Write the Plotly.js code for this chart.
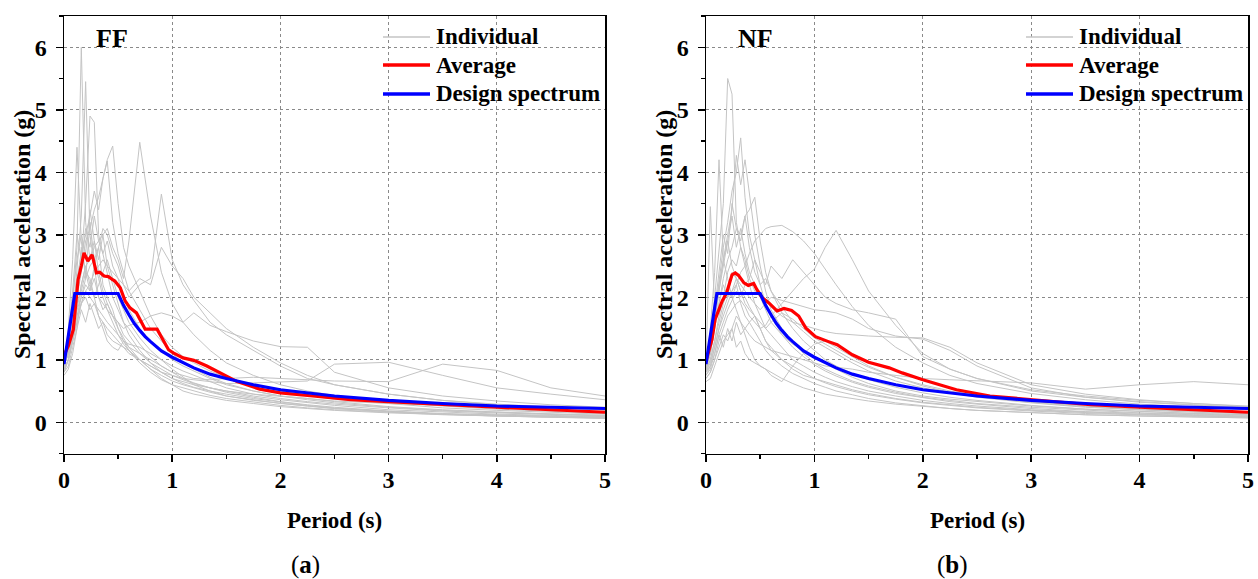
<!DOCTYPE html>
<html>
<head>
<meta charset="utf-8">
<script src="https://cdn.plot.ly/plotly-3.0.1.min.js"></script>
<style>html,body{margin:0;padding:0;background:#fff}#chart{width:1258px;height:579px}</style>
</head>
<body>
<div id="chart"></div>
<script>
// ---------------- DATA ----------------
const periodGrid = [0,0.04,0.08,0.12,0.16,0.2,0.24,0.28,0.32,0.36,0.4,0.45,0.5,0.55,0.6,0.7,0.8,0.9,1.0,1.1,1.2,1.35,1.5,1.75,2.0,2.25,2.5,3.0,3.5,4.0,4.5,5.0];

const ffIndividual = [
 [0.95,1.3,1.9,2.8,6.0,3.2,2.6,2.9,2.4,2.1,1.9,1.7,1.6,1.4,1.3,1.1,0.95,0.85,0.75,0.68,0.62,0.55,0.48,0.4,0.33,0.28,0.24,0.18,0.14,0.12,0.1,0.08],
 [0.9,1.2,1.6,2.4,3.3,5.45,3.0,2.5,2.8,2.2,2.0,1.8,1.5,1.35,1.2,1.0,0.9,0.8,0.7,0.62,0.56,0.5,0.45,0.38,0.32,0.27,0.23,0.17,0.13,0.11,0.09,0.07],
 [1.0,1.4,2.1,3.0,2.6,3.5,4.9,4.8,3.0,2.7,2.4,2.0,1.8,1.6,1.5,1.25,1.05,0.9,0.8,0.7,0.63,0.55,0.5,0.42,0.36,0.31,0.27,0.2,0.16,0.13,0.11,0.09],
 [0.85,1.5,2.6,4.4,2.9,2.3,3.2,2.6,2.3,2.0,1.8,1.6,1.4,1.25,1.15,1.0,0.85,0.75,0.66,0.6,0.55,0.48,0.42,0.36,0.3,0.26,0.22,0.17,0.13,0.11,0.09,0.08],
 [0.9,1.1,1.5,2.0,2.4,2.9,3.1,3.4,3.6,3.9,4.2,4.42,3.5,2.8,2.5,2.1,1.7,1.4,1.2,1.05,0.95,0.82,0.72,0.6,0.5,0.43,0.37,0.3,0.23,0.19,0.16,0.13],
 [0.8,1.0,1.4,1.8,2.2,2.5,2.6,2.8,2.9,3.0,3.1,2.8,2.6,2.3,2.9,4.48,3.3,2.4,1.9,1.6,1.4,1.15,0.95,0.75,0.6,0.5,0.43,0.33,0.26,0.21,0.17,0.14],
 [1.0,1.3,1.8,2.3,2.7,3.0,3.3,3.7,3.4,3.9,4.18,3.2,2.7,2.4,2.1,1.8,1.5,1.3,1.1,0.95,0.85,0.72,0.62,0.5,0.42,0.36,0.31,0.24,0.19,0.16,0.13,0.11],
 [0.9,1.1,1.4,1.7,2.0,2.3,2.5,2.6,2.8,3.1,3.0,2.7,2.5,2.2,2.0,2.2,2.3,3.65,2.6,2.2,1.95,1.6,1.4,1.15,0.9,0.7,0.6,0.45,0.35,0.28,0.23,0.19],
 [0.85,1.0,1.3,1.6,1.9,2.1,2.2,2.4,2.5,2.6,2.5,2.4,2.3,2.2,2.1,2.3,2.2,2.8,2.5,2.3,2.0,1.75,1.5,1.2,0.95,0.75,0.6,0.45,0.35,0.29,0.24,0.2],
 [0.9,1.1,1.4,1.8,2.0,2.2,2.1,2.3,2.0,1.9,1.8,1.7,1.6,1.5,1.55,1.6,1.7,1.75,1.7,1.6,1.75,1.55,1.45,1.3,1.21,1.2,0.8,0.55,0.42,0.34,0.28,0.24],
 [0.8,1.0,1.3,1.6,1.9,2.0,1.8,1.9,1.7,1.6,1.5,1.4,1.3,1.2,1.1,1.0,0.9,0.8,0.75,0.7,0.68,0.65,0.62,0.63,0.64,0.66,0.93,0.96,0.75,0.55,0.45,0.36],
 [0.85,1.0,1.3,1.7,1.9,2.1,2.0,1.9,1.8,1.7,1.6,1.5,1.4,1.3,1.2,1.1,1.0,0.9,0.8,0.75,0.7,0.68,0.7,0.72,0.7,0.68,0.66,0.65,0.93,0.83,0.55,0.42],
 [0.8,0.9,1.2,1.5,1.8,1.6,1.9,1.7,1.5,1.6,1.4,1.3,1.25,1.2,1.15,1.0,0.85,0.7,0.6,0.5,0.45,0.4,0.35,0.3,0.25,0.22,0.19,0.15,0.12,0.1,0.08,0.07],
 [1.0,1.3,2.0,2.6,3.0,2.7,3.4,2.9,2.6,3.0,2.5,2.2,1.9,1.6,1.4,1.15,0.95,0.8,0.7,0.65,0.6,0.55,0.5,0.45,0.42,0.38,0.33,0.25,0.2,0.16,0.13,0.11],
 [0.75,0.85,1.1,1.5,2.2,2.5,2.2,2.0,1.7,1.5,1.3,1.2,1.15,1.3,1.25,1.2,1.1,1.0,0.85,0.72,0.6,0.5,0.42,0.35,0.3,0.26,0.22,0.17,0.13,0.1,0.08,0.06],
 [0.9,1.2,1.7,2.2,2.5,3.1,2.8,3.3,2.9,2.7,2.9,2.5,2.3,2.0,1.8,1.5,1.3,1.15,1.0,0.9,0.82,0.7,0.6,0.5,0.42,0.38,0.34,0.3,0.27,0.23,0.2,0.17],
 [0.95,1.1,1.5,1.9,2.1,2.4,2.3,2.0,2.2,2.4,2.6,2.3,2.0,1.8,1.6,1.35,1.15,1.0,0.9,0.82,0.75,0.65,0.55,0.45,0.38,0.33,0.29,0.23,0.18,0.15,0.12,0.1],
 [0.85,1.0,1.4,2.0,2.8,2.4,2.1,2.5,2.0,1.8,1.9,1.7,1.5,1.3,1.15,0.95,0.8,0.68,0.6,0.55,0.5,0.43,0.38,0.32,0.27,0.23,0.2,0.16,0.12,0.1,0.09,0.07]
];

const nfIndividual = [
 [0.9,1.3,2.0,2.8,3.5,5.5,5.25,3.2,2.8,2.5,2.2,1.9,1.7,1.5,1.4,1.2,1.0,0.9,0.8,0.72,0.65,0.57,0.5,0.42,0.35,0.3,0.26,0.2,0.16,0.13,0.11,0.09],
 [0.8,1.5,2.4,4.2,2.6,2.9,2.5,2.3,2.1,2.0,1.85,1.7,1.5,1.3,1.2,1.0,0.9,0.8,0.7,0.63,0.57,0.5,0.44,0.37,0.31,0.27,0.23,0.18,0.14,0.12,0.1,0.08],
 [0.95,1.2,1.7,2.3,2.8,3.2,3.7,4.0,4.55,3.6,3.0,2.6,2.2,1.9,1.7,1.4,1.2,1.05,0.92,0.82,0.74,0.64,0.56,0.46,0.39,0.33,0.29,0.22,0.17,0.14,0.12,0.1],
 [0.85,1.1,1.6,2.1,2.6,3.0,3.4,4.27,3.8,4.2,3.7,3.0,2.5,2.1,1.8,1.5,1.3,1.1,0.95,0.85,0.77,0.66,0.58,0.48,0.4,0.35,0.3,0.24,0.19,0.15,0.13,0.11],
 [0.9,1.1,1.5,1.9,2.3,2.6,2.8,3.1,3.0,3.3,3.4,3.6,2.9,2.4,2.1,1.75,1.5,1.3,1.15,1.0,0.9,0.78,0.68,0.56,0.47,0.4,0.35,0.27,0.21,0.17,0.14,0.12],
 [0.9,3.45,1.8,2.2,2.6,2.3,2.0,2.2,1.9,1.7,1.6,1.45,1.3,1.15,1.05,0.9,0.78,0.7,0.62,0.56,0.5,0.44,0.38,0.31,0.26,0.22,0.19,0.15,0.12,0.1,0.08,0.07],
 [0.8,0.95,1.2,1.5,1.7,1.9,2.1,2.2,2.4,2.5,2.7,2.9,3.0,3.1,3.13,3.15,3.05,2.9,2.7,2.45,2.2,1.85,1.55,1.2,0.95,0.75,0.62,0.46,0.36,0.29,0.24,0.2],
 [0.7,0.8,1.0,1.3,1.5,1.7,1.8,1.9,1.95,1.85,1.7,1.6,1.5,1.55,1.7,1.9,2.1,2.3,2.45,2.8,3.07,2.6,2.1,1.55,1.1,0.85,0.7,0.5,0.4,0.33,0.28,0.24],
 [0.8,0.9,1.2,1.5,1.8,2.0,2.1,2.3,2.2,2.1,2.0,1.9,1.8,1.9,2.0,1.95,1.9,1.85,1.8,1.78,1.75,1.65,1.5,1.38,1.33,1.15,0.9,0.55,0.4,0.32,0.27,0.23],
 [0.85,1.0,1.3,1.7,2.0,2.4,2.6,2.5,2.8,2.6,2.3,2.6,2.4,2.2,2.5,2.3,2.6,2.4,2.2,2.0,1.9,1.8,1.75,1.65,1.05,0.85,0.7,0.52,0.42,0.35,0.3,0.25],
 [0.75,0.9,1.1,1.4,1.6,1.8,1.95,2.1,2.0,2.2,2.3,2.1,2.0,1.95,1.85,1.7,1.6,1.55,1.5,1.45,1.42,1.4,1.38,1.36,1.35,1.2,0.95,0.6,0.45,0.36,0.3,0.26],
 [0.65,0.7,0.9,1.1,1.3,1.4,1.5,1.7,1.6,1.5,1.4,1.3,1.25,1.2,1.15,1.1,1.05,1.0,0.95,0.9,0.88,0.85,0.8,0.75,0.7,0.68,0.66,0.63,0.53,0.6,0.65,0.6],
 [0.7,0.8,1.0,1.2,1.4,1.3,1.5,1.2,1.3,1.1,1.0,0.95,0.9,0.85,0.8,0.7,0.62,0.55,0.5,0.45,0.42,0.38,0.34,0.29,0.25,0.22,0.19,0.15,0.12,0.1,0.08,0.07],
 [0.9,1.2,1.6,2.1,2.5,2.9,3.3,2.8,3.1,2.7,2.4,2.2,2.0,1.8,1.6,1.4,1.25,1.15,1.05,0.95,0.85,0.72,0.62,0.5,0.42,0.37,0.33,0.26,0.21,0.17,0.14,0.12],
 [0.8,1.0,1.3,1.6,1.9,2.1,2.0,1.8,1.6,1.4,1.2,1.0,0.9,0.85,0.75,0.65,0.9,1.1,1.25,1.3,1.2,1.05,0.9,0.72,0.58,0.48,0.41,0.32,0.25,0.2,0.17,0.14],
 [0.95,1.3,1.8,2.4,3.0,2.7,3.5,3.1,2.9,3.3,2.8,2.4,2.2,2.3,2.1,1.85,1.6,1.45,1.3,1.2,1.1,0.95,0.82,0.66,0.55,0.47,0.4,0.31,0.24,0.2,0.16,0.14],
 [0.85,1.1,1.5,1.9,2.2,2.0,2.4,2.3,2.1,1.9,1.8,1.7,1.6,1.5,1.6,1.75,1.65,1.5,1.35,1.25,1.15,1.0,0.88,0.72,0.6,0.5,0.43,0.33,0.26,0.21,0.18,0.15],
 [0.75,0.85,1.1,1.4,1.2,1.5,1.3,1.6,1.4,1.5,1.6,1.7,1.5,1.3,1.15,1.0,0.85,0.75,0.7,0.65,0.6,0.52,0.46,0.38,0.32,0.28,0.24,0.19,0.15,0.12,0.1,0.09]
];

const avgFFPeriod = [0,0.04,0.086,0.13,0.16,0.185,0.22,0.26,0.3,0.33,0.37,0.41,0.45,0.47,0.52,0.565,0.61,0.67,0.75,0.86,0.966,1.01,1.1,1.2,1.32,1.44,1.6,1.81,2.0,2.3,2.65,3.0,3.5,4.0,4.5,5.0];
const avgFF = [1.07,1.22,1.48,2.28,2.5,2.71,2.58,2.68,2.39,2.40,2.34,2.33,2.28,2.26,2.15,1.94,1.83,1.75,1.49,1.49,1.16,1.11,1.03,0.99,0.90,0.79,0.65,0.53,0.47,0.42,0.36,0.33,0.28,0.24,0.2,0.16];

const avgNFPeriod = [0,0.055,0.083,0.15,0.19,0.24,0.27,0.3,0.35,0.39,0.44,0.47,0.52,0.58,0.655,0.72,0.79,0.855,0.92,1.01,1.13,1.21,1.35,1.5,1.69,1.81,2.0,2.31,2.62,3.0,3.55,4.0,4.5,5.0];
const avgNF = [0.98,1.32,1.64,1.94,2.07,2.36,2.39,2.35,2.23,2.19,2.22,2.12,1.99,1.91,1.78,1.82,1.79,1.70,1.51,1.37,1.29,1.24,1.08,0.96,0.87,0.79,0.68,0.52,0.42,0.36,0.28,0.24,0.2,0.16];

const designPeriod = [0,0.1,0.5,0.55,0.6,0.65,0.7,0.75,0.8,0.9,1.0,1.1,1.2,1.35,1.5,1.75,2.0,2.5,3.0,3.5,4.0,4.5,5.0];
const designSa = [0.93,2.06,2.06,1.87,1.72,1.58,1.47,1.37,1.29,1.14,1.04,0.95,0.87,0.77,0.70,0.60,0.52,0.42,0.35,0.30,0.26,0.24,0.22];

const seriesNames = ["Individual","Average","Design spectrum"];
const seriesColors = ["#c4c4c4","#ff0000","#0000ff"];
const panelNames = ["FF","NF"];
const captions = ["a","b"];
const xTickVals = [0,1,2,3,4,5];
const yTickVals = [0,1,2,3,4,5,6];

// ---------------- STYLE ----------------
const FONT = "Liberation Serif, Times New Roman, serif";
const W = 1258, H = 579;
const px = v => v / W;
const py = v => 1 - v / H;

const traces = [];
function addPanel(indiv, avgT, avgV, xa, ya) {
  indiv.forEach((vals) => {
    traces.push({
      x: periodGrid, y: vals, xaxis: xa, yaxis: ya, type: 'scatter', mode: 'lines',
      line: {color: seriesColors[0], width: 1}, name: seriesNames[0], showlegend: false, hoverinfo: 'skip'
    });
  });
  traces.push({x: avgT, y: avgV, xaxis: xa, yaxis: ya, type: 'scatter', mode: 'lines',
    line: {color: seriesColors[1], width: 3.2}, name: seriesNames[1], showlegend: false});
  traces.push({x: designPeriod, y: designSa, xaxis: xa, yaxis: ya, type: 'scatter', mode: 'lines',
    line: {color: seriesColors[2], width: 3.2}, name: seriesNames[2], showlegend: false});
}
addPanel(ffIndividual, avgFFPeriod, avgFF, 'x', 'y');
addPanel(nfIndividual, avgNFPeriod, avgNF, 'x2', 'y2');

const tickFont = {family: FONT, size: 24, color: '#000', weight: 700};
function xAxis(dom, anchor) {
  return {domain: dom, anchor: anchor, range: [0, 5], tickvals: xTickVals, ticktext: xTickVals.map(String),
    ticks: 'outside', ticklen: 7, tickwidth: 1.5, tickcolor: '#000',
    minor: {dtick: 0.5, tick0: 0, ticks: 'outside', ticklen: 4, tickwidth: 1.5, tickcolor: '#000', showgrid: false},
    showline: true, mirror: true, linecolor: '#000', linewidth: 1.5,
    showgrid: true, gridcolor: '#8a8a8a', gridwidth: 1, griddash: '3px,3px',
    zeroline: false, tickfont: tickFont, ticklabelstandoff: -3, fixedrange: true};
}
function yAxis(anchor) {
  return {domain: [1 - 453.5 / H, 1 - 16 / H], anchor: anchor, range: [-0.5, 6.5], tickvals: yTickVals,
    ticktext: yTickVals.map(String),
    ticks: 'outside', ticklen: 7, tickwidth: 1.5, tickcolor: '#000',
    minor: {dtick: 0.5, tick0: 0.5, ticks: 'outside', ticklen: 4, tickwidth: 1.5, tickcolor: '#000', showgrid: false},
    showline: true, mirror: true, linecolor: '#000', linewidth: 1.5,
    showgrid: true, gridcolor: '#8a8a8a', gridwidth: 1, griddash: '3px,3px',
    zeroline: false, tickfont: tickFont, ticklabelstandoff: 4, fixedrange: true};
}

const annFont = {family: FONT, size: 23, color: '#000', weight: 700};
function ann(text, x, y, font, angle, xanchor) {
  return {text: text, x: px(x), y: py(y), xref: 'paper', yref: 'paper', xanchor: xanchor || 'center', yanchor: 'middle',
    showarrow: false, font: font, textangle: angle || 0};
}
const panelFont = {family: FONT, size: 26, color: '#000', weight: 700};
const capFont = {family: FONT, size: 25, color: '#000'};
const annotations = [
  ann(panelNames[0], 112, 38, panelFont),
  ann(panelNames[1], 755, 38, panelFont),
  ann('Spectral acceleration (g)', 22, 235, {family: FONT, size: 24, color: '#000', weight: 700}, -90),
  ann('Spectral acceleration (g)', 664, 235, {family: FONT, size: 24, color: '#000', weight: 700}, -90),
  ann('Period (s)', 334, 520, annFont),
  ann('Period (s)', 977, 520, annFont),
  ann('(<b>' + captions[0] + '</b>)', 305, 565, capFont),
  ann('(<b>' + captions[1] + '</b>)', 952, 565, capFont)
];

// legend (key lines + real text)
const shapes = [];
const legendRows = [37, 65, 94];
const legendWidths = [1.6, 3.5, 3.5];
[[383, 430, 434], [1026, 1073, 1077]].forEach(([x0, x1, xt]) => {
  seriesNames.forEach((nm, i) => {
    shapes.push({type: 'line', xref: 'paper', yref: 'paper', x0: px(x0), x1: px(x1), y0: py(legendRows[i]), y1: py(legendRows[i]),
      line: {color: seriesColors[i], width: legendWidths[i]}});
    annotations.push(ann(nm, xt, legendRows[i], {family: FONT, size: 23, color: '#000', weight: 700}, 0, 'left'));
  });
});

const layout = {
  width: W, height: H, margin: {l: 0, r: 0, t: 0, b: 0}, paper_bgcolor: '#fff', plot_bgcolor: '#fff',
  font: {family: FONT, color: '#000'},
  xaxis: xAxis([px(64), px(605)], 'y'),
  yaxis: yAxis('x'),
  xaxis2: xAxis([px(706), px(1248)], 'y2'),
  yaxis2: yAxis('x2'),
  showlegend: false,
  annotations: annotations,
  shapes: shapes
};

Plotly.newPlot('chart', traces, layout, {staticPlot: true, displayModeBar: false});
</script>
</body>
</html>
